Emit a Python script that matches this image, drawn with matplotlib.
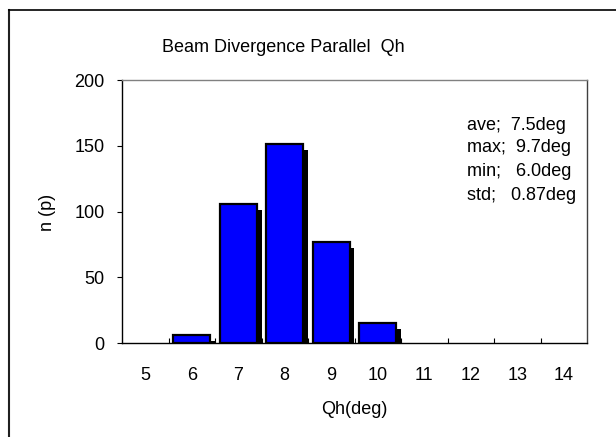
import matplotlib
matplotlib.use("Agg")
import matplotlib.pyplot as plt
from matplotlib.lines import Line2D

plt.rcParams['font.family'] = ['Liberation Sans', 'DejaVu Sans']

categories = ['5', '6', '7', '8', '9', '10', '11', '12', '13', '14']
counts = [0, 6, 106, 151, 77, 15, 0, 0, 0, 0]
yticks = [0, 50, 100, 150, 200]
stats_lines = ['ave;  7.5deg', 'max;  9.7deg', 'min;   6.0deg', 'std;   0.87deg']
title = 'Beam Divergence Parallel  Qh'
xlabel = 'Qh(deg)'
ylabel = 'n (p)'

W, H = 616, 437
fig = plt.figure(figsize=(W / 100, H / 100), dpi=100)
L, R, T, B = 122, 587, 80, 343
ax = fig.add_axes([L / W, 1 - B / H, (R - L) / W, (B - T) / H])

x = list(range(len(categories)))
nz = [i for i in x if counts[i] > 0]
# shadow bars (offset right and down)
ax.bar([i + 0.1 for i in nz], [max(counts[i] - 4.5, 0) for i in nz], width=0.8,
       color='black', edgecolor='none', zorder=1)
ax.bar(nz, [counts[i] for i in nz], width=0.8, color='#0000FF',
       edgecolor='black', linewidth=1.6, zorder=2)

ax.set_xlim(-0.5, len(categories) - 0.5)
ax.set_ylim(0, 200)
ax.set_yticks(yticks)
ax.set_yticklabels([str(v) for v in yticks])
ax.set_xticks(x)
ax.set_xticklabels(categories)
ax.set_xticks([i + 0.5 for i in x[:-1]], minor=True)

ax.tick_params(axis='x', which='major', length=0, pad=17, labelsize=13)
ax.tick_params(axis='x', which='minor', direction='in', length=3.5, width=0.8)
ax.tick_params(axis='y', which='major', direction='out', length=3.6, width=0.8,
               pad=9, labelsize=13)

for s in ['left', 'bottom']:
    ax.spines[s].set_color('black')
    ax.spines[s].set_linewidth(1.0)
ax.spines['top'].set_color('#808080')
ax.spines['top'].set_linewidth(1.0)
ax.spines['right'].set_color('#404040')
ax.spines['right'].set_linewidth(1.0)

fig.text(283 / W, 1 - 47 / H, title, ha='center', va='center', fontsize=13)
fig.text(354 / W, 1 - 409 / H, xlabel, ha='center', va='center', fontsize=13)
fig.text(48 / W, 1 - 212 / H, ylabel, ha='center', va='center', fontsize=13,
         rotation=90)

ys = [125, 148, 172, 195]
for s, yy in zip(stats_lines, ys):
    fig.text(467 / W, 1 - yy / H, s, ha='left', va='center', fontsize=13)

# outer chart frame (left and top edges visible)
fig.add_artist(Line2D([9 / W, 9 / W], [0, 1 - 10 / H], transform=fig.transFigure,
                      color='#202020', linewidth=1.5))
fig.add_artist(Line2D([9 / W, 1], [1 - 10 / H, 1 - 10 / H], transform=fig.transFigure,
                      color='black', linewidth=1.2))

fig.savefig('out.png', dpi=100)
